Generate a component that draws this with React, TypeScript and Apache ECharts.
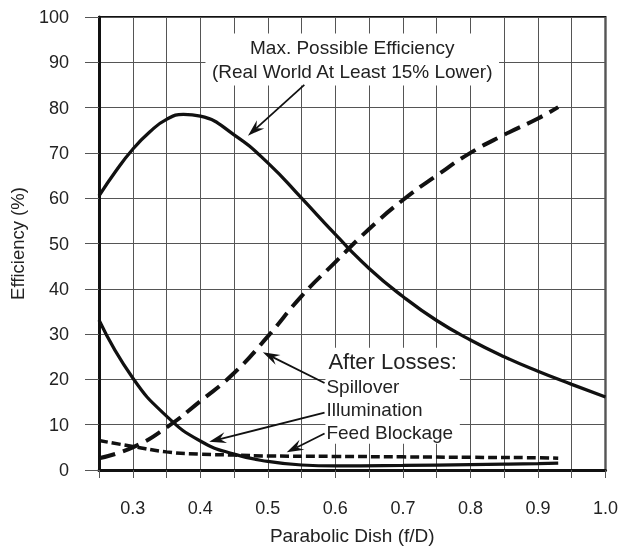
import React, { useEffect, useRef } from "react";
import * as echarts from "echarts";

// ---- Data ----
const maxX = [0.25, 0.275, 0.3, 0.325, 0.35, 0.375, 0.4, 0.45, 0.5, 0.55, 0.6, 0.65, 0.7, 0.75, 0.8, 0.85, 0.9, 0.95, 1.0];
const maxY = [60.5, 66.0, 70.8, 74.6, 77.4, 78.5, 78.1, 74.0, 67.8, 60.0, 52.0, 44.5, 38.3, 33.0, 28.7, 25.0, 21.8, 18.9, 16.1];

const spillX = [0.25, 0.3, 0.35, 0.4, 0.45, 0.5, 0.55, 0.6, 0.65, 0.7, 0.75, 0.8, 0.85, 0.9, 0.93];
const spillY = [2.6, 5.0, 9.4, 15.2, 21.4, 29.5, 38.4, 45.9, 53.2, 59.6, 65.0, 70.0, 74.0, 77.6, 80.1];

const illumX = [0.25, 0.3, 0.35, 0.4, 0.45, 0.5, 0.55, 0.6, 0.7, 0.8, 0.9, 0.93];
const illumY = [33.1, 20.3, 11.9, 6.4, 3.5, 1.9, 1.1, 0.9, 1.0, 1.2, 1.4, 1.5];

const feedX = [0.25, 0.3, 0.35, 0.4, 0.45, 0.5, 0.6, 0.7, 0.8, 0.9, 0.93];
const feedY = [6.5, 5.2, 4.0, 3.5, 3.3, 3.1, 3.0, 2.9, 2.8, 2.7, 2.6];

const xTickLabels = ["0.3", "0.4", "0.5", "0.6", "0.7", "0.8", "0.9", "1.0"];

// annotation arrows: [fromX, fromY, toX, toY] in data units
const arrowRows = [
  [0.554, 85.0, 0.4706, 73.8],
  [0.584, 19.2, 0.4926, 26.0],
  [0.584, 12.65, 0.4132, 6.23],
  [0.584, 8.05, 0.528, 3.9],
];

// annotation texts, anchored in data units
const noteTitle = ["Max. Possible Efficiency", "(Real World At Least 15% Lower)"];
const noteTitlePos = [0.625, 90.6];
const lossHeader = "After Losses:";
const lossItems = ["Spillover", "Illumination", "Feed Blockage"];
const lossPos = [0.5853, 27.0];

const FONT = "'Liberation Sans', Arial, Helvetica, sans-serif";
const zip = (xs: number[], ys: number[]) => xs.map((x, i) => [x, ys[i]]);

export default function App() {
  const ref = useRef<HTMLDivElement>(null);

  useEffect(() => {
    if (!ref.current) return;
    const chart = echarts.init(ref.current, null, { renderer: "svg" });

    const option: any = {
      animation: false,
      grid: { left: 98, right: 13, top: 17, bottom: 77, show: true, borderColor: "#111", borderWidth: 2 },
      xAxis: {
        type: "value",
        min: 0.25,
        max: 1.0,
        interval: 0.05,
        name: "Parabolic Dish (f/D)",
        nameLocation: "middle",
        nameGap: 56,
        nameTextStyle: { fontSize: 19, color: "#222", fontFamily: FONT },
        axisLine: { show: true, lineStyle: { color: "#111", width: 3 } },
        axisTick: { show: true, length: 8, lineStyle: { color: "#555" } },
        axisLabel: {
          fontSize: 18,
          color: "#222",
          fontFamily: FONT,
          margin: 29,
          formatter: (v: number) => {
            const s = v.toFixed(1);
            return Math.abs(v * 10 - Math.round(v * 10)) < 1e-6 && xTickLabels.includes(s) ? s : "";
          },
        },
        splitLine: { show: true, lineStyle: { color: "#555" } },
      },
      yAxis: {
        type: "value",
        min: 0,
        max: 100,
        interval: 10,
        name: "Efficiency (%)",
        nameLocation: "middle",
        nameGap: 72,
        nameTextStyle: { fontSize: 18.5, color: "#222", fontFamily: FONT },
        axisLine: { show: true, lineStyle: { color: "#111", width: 3 } },
        axisTick: { show: true, length: 14, lineStyle: { color: "#555" } },
        axisLabel: { fontSize: 18, color: "#222", fontFamily: FONT, margin: 30 },
        splitLine: { show: true, lineStyle: { color: "#555" } },
      },
      series: [
        {
          name: "Max. Possible Efficiency",
          type: "line",
          data: zip(maxX, maxY),
          smooth: 0.5,
          showSymbol: false,
          z: 4,
          lineStyle: { color: "#111", width: 3.3, type: "solid" },
        },
        {
          name: "Spillover",
          type: "line",
          data: zip(spillX, spillY),
          smooth: 0.5,
          showSymbol: false,
          z: 4,
          lineStyle: { color: "#111", width: 4, type: [17, 8] },
        },
        {
          name: "Illumination",
          type: "line",
          data: zip(illumX, illumY),
          smooth: 0.5,
          showSymbol: false,
          z: 4,
          lineStyle: { color: "#111", width: 3.2, type: "solid" },
        },
        {
          name: "Feed Blockage",
          type: "line",
          data: zip(feedX, feedY),
          smooth: 0.5,
          showSymbol: false,
          z: 4,
          lineStyle: { color: "#111", width: 3.5, type: [9, 4] },
        },
        {
          name: "notes",
          type: "custom",
          z: 10,
          silent: true,
          data: [[noteTitlePos[0], noteTitlePos[1], lossPos[0], lossPos[1]]],
          encode: { x: [0, 2], y: [1, 3] },
          renderItem: (params: any, api: any) => {
            const p1 = api.coord([api.value(0), api.value(1)]);
            const p2 = api.coord([api.value(2), api.value(3)]);
            return {
              type: "group",
              children: [
                {
                  type: "text",
                  x: p1[0],
                  y: p1[1],
                  style: {
                    text: noteTitle.join("\n"),
                    font: `19px ${FONT}`,
                    lineHeight: 24,
                    fill: "#222",
                    align: "center",
                    verticalAlign: "middle",
                    backgroundColor: "#fff",
                    padding: [2, 6, 2, 6],
                  },
                },
                {
                  type: "text",
                  x: p2[0],
                  y: p2[1],
                  style: {
                    text: [`{a|${lossHeader}}`, ...lossItems.map((s) => `{b|${s}}`)].join("\n"),
                    fill: "#222",
                    align: "left",
                    verticalAlign: "top",
                    backgroundColor: "#fff",
                    padding: [0, 3, 0, 1],
                    rich: {
                      a: { font: `22px ${FONT}`, lineHeight: 27, fill: "#222", padding: [0, 0, 0, 2] },
                      b: { font: `19px ${FONT}`, lineHeight: 23, fill: "#222" },
                    },
                  },
                },
              ],
            };
          },
        },
        {
          name: "arrows",
          type: "custom",
          z: 11,
          silent: true,
          data: arrowRows,
          encode: { x: [0, 2], y: [1, 3] },
          renderItem: (params: any, api: any) => {
            const p1 = api.coord([api.value(0), api.value(1)]);
            const p2 = api.coord([api.value(2), api.value(3)]);
            const dx = p2[0] - p1[0];
            const dy = p2[1] - p1[1];
            const len = Math.hypot(dx, dy) || 1;
            const ux = dx / len;
            const uy = dy / len;
            const nx = -uy;
            const ny = ux;
            const L = 17;
            const W = 5.5;
            const N = 11;
            const bx = p2[0] - ux * L;
            const by = p2[1] - uy * L;
            const cx = p2[0] - ux * N;
            const cy = p2[1] - uy * N;
            return {
              type: "group",
              children: [
                {
                  type: "line",
                  shape: { x1: p1[0], y1: p1[1], x2: cx, y2: cy },
                  style: { stroke: "#111", lineWidth: 1.8 },
                },
                {
                  type: "polygon",
                  shape: {
                    points: [
                      [p2[0], p2[1]],
                      [bx + nx * W, by + ny * W],
                      [cx, cy],
                      [bx - nx * W, by - ny * W],
                    ],
                  },
                  style: { fill: "#111" },
                },
              ],
            };
          },
        },
      ],
    };

    chart.setOption(option);
    return () => chart.dispose();
  }, []);

  return <div ref={ref} style={{ position: "fixed", left: 0, top: 0, width: 621, height: 550 }} />;
}
